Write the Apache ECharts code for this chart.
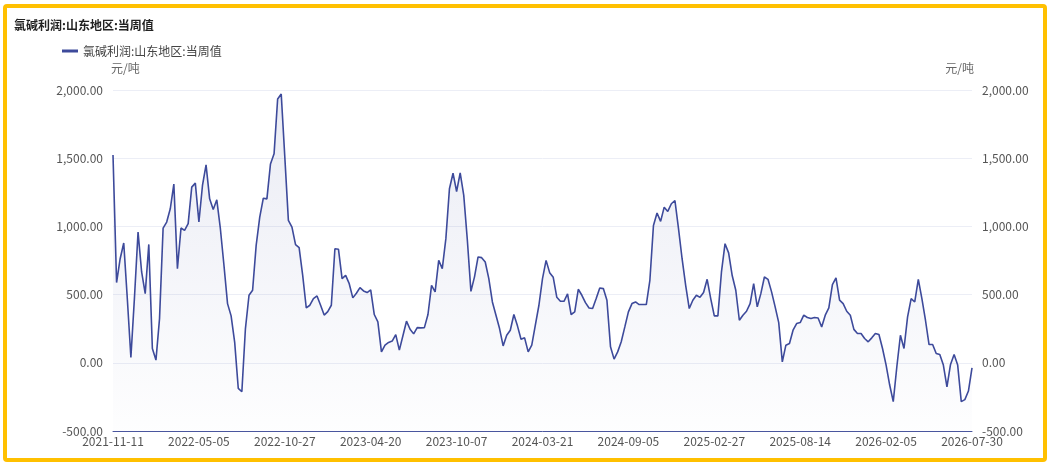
<!DOCTYPE html>
<html>
<head>
<meta charset="utf-8">
<title>氯碱利润:山东地区:当周值</title>
<script src="https://cdn.jsdelivr.net/npm/echarts@6/dist/echarts.min.js"></script>
<style>
    html, body { margin: 0; padding: 0; background: #fff; }
    #fcChart { width: 1055px; height: 466px; }
    #frame {
        position: absolute; left: 3px; top: 4px; width: 1036px; height: 450px;
        border: 4px solid #FFC000; border-radius: 4px; pointer-events: none;
    }
</style>
</head>
<body>
<div id="fcChart"></div>
<div id="frame"></div>
<script>
// x轴标签(每24周一个)
var tickLabels = ['2021-11-11', '2022-05-05', '2022-10-27', '2023-04-20', '2023-10-07', '2024-03-21',
    '2024-09-05', '2025-02-27', '2025-08-14', '2026-02-05', '2026-07-30'];
var seriesName = '氯碱利润:山东地区:当周值';
var unitName = '元/吨';
var yTicks = [-500, 0, 500, 1000, 1500, 2000];

// 当周值 (元/吨)
var profitArr = [
    1524, 588, 763, 878, 470, 39, 480, 958, 666, 507,
    868, 105, 20, 324, 988, 1032, 1129, 1310, 690, 988,
    971, 1020, 1288, 1317, 1032, 1300, 1451, 1202, 1124, 1195,
    983, 715, 434, 344, 150, -188, -212, 251, 495, 532,
    861, 1068, 1207, 1202, 1458, 1532, 1934, 1971, 1510, 1044,
    995, 866, 844, 641, 402, 422, 471, 490, 422, 350,
    375, 422, 836, 832, 617, 641, 580, 476, 510, 551,
    527, 515, 534, 354, 300, 80, 129, 149, 159, 207,
    93, 198, 305, 246, 212, 258, 256, 258, 354, 568,
    520, 751, 690, 910, 1276, 1390, 1256, 1393, 1227, 900,
    524, 630, 776, 771, 739, 617, 446, 349, 251, 124,
    202, 239, 354, 271, 173, 183, 80, 129, 276, 422,
    617, 751, 661, 627, 480, 451, 451, 505, 354, 373,
    539, 495, 441, 402, 398, 471, 549, 544, 459, 117,
    27, 80, 154, 263, 373, 434, 446, 427, 427, 427,
    605, 1007, 1098, 1037, 1141, 1110, 1166, 1190, 983, 763,
    568, 398, 459, 495, 480, 515, 612, 471, 344, 344,
    666, 873, 806, 640, 532, 312, 349, 378, 434, 580,
    410, 507, 629, 612, 520, 410, 295, 7, 129, 141,
    239, 288, 295, 349, 332, 324, 332, 329, 263, 349,
    402, 573, 622, 459, 434, 378, 349, 245, 215, 215,
    178, 154, 183, 215, 207, 105, -17, -163, -285, -29,
    202, 105, 337, 471, 446, 612, 471, 312, 134, 134,
    68, 61, -17, -176, -12, 61, -17, -285, -270, -207,
    -37
];

var step = 24;

function buildDays() {
    var days = [];
    for (var k = 0; k < tickLabels.length; k++) {
        if (k == tickLabels.length - 1) {
            days.push(tickLabels[k]);
            break;
        }
        var base = new Date(tickLabels[k] + 'T00:00:00Z');
        for (var j = 0; j < step; j++) {
            var d = new Date(base.getTime() + j * 7 * 86400000);
            days.push(j == 0 ? tickLabels[k] : d.toISOString().slice(0, 10));
        }
    }
    return days;
}

function fmt(v) {
    return Number(v).toLocaleString('en-US', { minimumFractionDigits: 2, maximumFractionDigits: 2 });
}

function initChart(id, dayArr, valArr) {
    var myChart = echarts.init(document.getElementById(id));
    var font = '"Noto Sans CJK SC", "Microsoft YaHei", sans-serif';
    var yAxisBase = function (pos) {
        return {
            type: 'value',
            position: pos,
            min: yTicks[0],
            max: yTicks[yTicks.length - 1],
            interval: 500,
            name: unitName,
            nameLocation: 'end',
            nameGap: 16,
            nameTextStyle: {
                color: '#666',
                fontSize: 12,
                fontFamily: font,
                align: pos == 'left' ? 'left' : 'right',
                padding: pos == 'left' ? [0, 0, 0, -2] : [0, -2, 0, 0]
            },
            axisLine: { show: false },
            axisTick: { show: false },
            axisLabel: {
                color: '#555',
                fontSize: 12,
                fontFamily: font,
                margin: 10,
                formatter: fmt
            },
            splitLine: {
                show: pos == 'left',
                lineStyle: { color: '#eceef6', width: 1 }
            }
        };
    };
    var option = {
        animation: false,
        backgroundColor: '#fff',
        title: {
            text: seriesName,
            left: 9,
            top: 14,
            textStyle: {
                fontSize: 12,
                fontWeight: 'bold',
                color: '#222',
                fontFamily: font
            }
        },
        legend: {
            data: [seriesName],
            left: 57,
            top: 40,
            icon: 'rect',
            itemWidth: 16,
            itemHeight: 3,
            itemGap: 10,
            textStyle: { color: '#444', fontSize: 12, fontFamily: font }
        },
        grid: {
            left: 113,
            right: 83,
            top: 90,
            bottom: 35,
            containLabel: false
        },
        xAxis: [
            {
                type: 'category',
                boundaryGap: false,
                data: dayArr,
                axisLine: { show: true, onZero: false, lineStyle: { color: '#4a569e', width: 1 } },
                axisTick: { show: false },
                axisLabel: {
                    interval: step - 1,
                    color: '#555',
                    fontSize: 12,
                    fontFamily: font,
                    margin: 4
                },
                splitLine: { show: false }
            }
        ],
        yAxis: [yAxisBase('left'), yAxisBase('right')],
        series: []
    };
    option.series.push({
        name: seriesName,
        type: 'line',
        yAxisIndex: 0,
        showSymbol: false,
        symbol: 'none',
        smooth: false,
        data: valArr,
        lineStyle: { color: '#3d4a9b', width: 1.6 },
        itemStyle: { color: '#3d4a9b' },
        areaStyle: {
            origin: 'start',
            color: new echarts.graphic.LinearGradient(0, 0, 0, 1, [
                { offset: 0, color: 'rgba(70, 84, 160, 0.16)' },
                { offset: 1, color: 'rgba(70, 84, 160, 0.01)' }
            ])
        }
    });
    myChart.setOption(option);
}

initChart('fcChart', buildDays(), profitArr);
</script>
</body>
</html>
